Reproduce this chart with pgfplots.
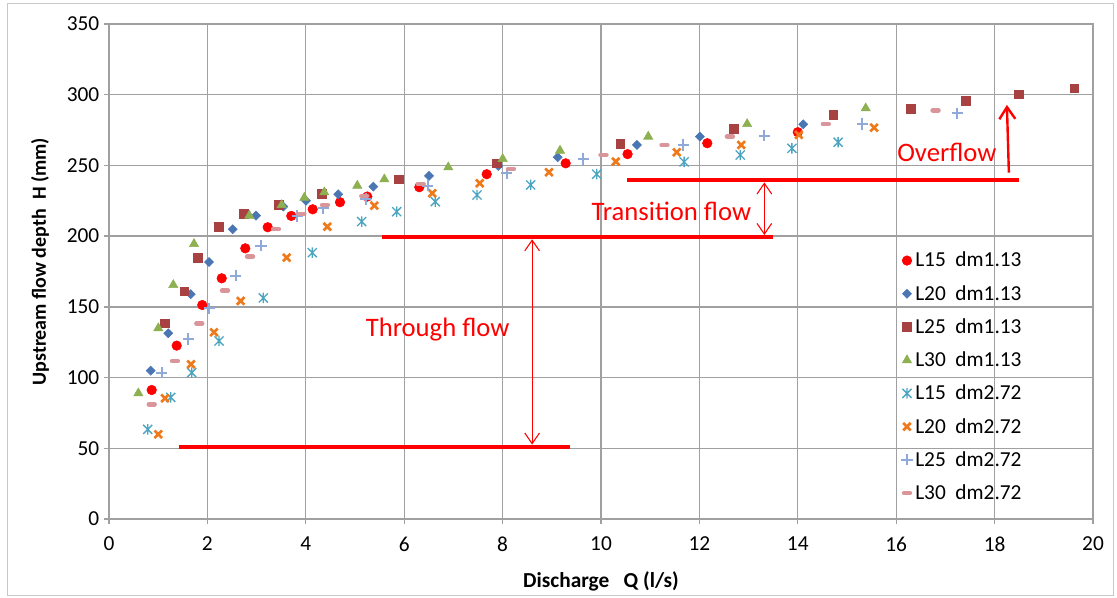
\documentclass[border=0pt]{standalone}
\usepackage{pgfplots}
\pgfplotsset{compat=1.18}
\usepackage{fontspec}
\setmainfont{Carlito}
\usetikzlibrary{arrows.meta}

\definecolor{gridgray}{HTML}{A0A0A0}
\definecolor{frame}{HTML}{C8C8C8}
\definecolor{cRed}{HTML}{FF0000}
\definecolor{cBlue}{HTML}{4A76B4}
\definecolor{cMaroon}{HTML}{A84242}
\definecolor{cGreen}{HTML}{8DB050}
\definecolor{cTeal}{HTML}{4BA5C0}
\definecolor{cOrange}{HTML}{EE7A1C}
\definecolor{cLBlue}{HTML}{8FAAD8}
\definecolor{cPink}{HTML}{D9959A}

% Excel-style star: an x with a vertical bar through it
\pgfdeclareplotmark{xstar}{%
  \pgfpathmoveto{\pgfqpoint{-\pgfplotmarksize}{-\pgfplotmarksize}}%
  \pgfpathlineto{\pgfqpoint{\pgfplotmarksize}{\pgfplotmarksize}}%
  \pgfpathmoveto{\pgfqpoint{-\pgfplotmarksize}{\pgfplotmarksize}}%
  \pgfpathlineto{\pgfqpoint{\pgfplotmarksize}{-\pgfplotmarksize}}%
  \pgfpathmoveto{\pgfqpoint{0pt}{-1.15\pgfplotmarksize}}%
  \pgfpathlineto{\pgfqpoint{0pt}{1.15\pgfplotmarksize}}%
  \pgfusepathqstroke}

\begin{document}
\begin{tikzpicture}
\useasboundingbox (-81.75pt,-58.5pt) rectangle (756pt,389.25pt);
\draw[frame, line width=0.75pt] (-75.75pt,-57pt) rectangle (753pt,386.25pt);
\begin{axis}[
    width=738pt, height=371.25pt,
    scale only axis,
    xmin=0, xmax=20,
    ymin=0, ymax=350,
    xtick={0,2,...,20},
    ytick={0,50,...,350},
    axis line style={gridgray, line width=1pt},
    grid=major,
    major grid style={gridgray, line width=1pt},
    tick style={gridgray, line width=1pt},
    tick align=outside,
    major tick length=3.75pt,
    xtick pos=bottom, ytick pos=left,
    /pgf/number format/assume math mode=true,
    tick label style={font=\fontsize{16}{19}\selectfont},
    x tick label style={yshift=-6pt},
    xlabel={Discharge\ \ \ Q (l/s)},
    ylabel={Upstream flow depth\ \ H (mm)},
    xlabel style={font=\fontsize{16}{19}\selectfont\bfseries,
        at={(axis description cs:0.50,-0.126)}, anchor=center},
    ylabel style={font=\fontsize{15}{18}\selectfont\bfseries,
        at={(axis description cs:-0.070,0.520)}, anchor=center},
    legend style={draw=none, fill=none, at={(axis description cs:0.805,0.545)},
        anchor=north west, font=\fontsize{16}{19}\selectfont,
        row sep=8.3pt, inner sep=0pt},
    legend cell align=left,
    legend image code/.code={\draw[#1] plot coordinates {(0cm,0cm)};},
]

\addplot[only marks, mark=*, mark size=3.6pt, draw=cRed, fill=cRed] coordinates {
(0.868,91.2) (1.376,122.6) (1.896,151.3) (2.291,170.2) (2.770,191.4) (3.226,206.3)
(3.705,214.3) (4.140,219.0) (4.695,224.0) (5.250,228.0) (6.307,234.6) (7.677,243.8)
(9.282,251.5) (10.54,258.0) (12.16,265.7) (14.00,273.5)
};
\addlegendentry{L15\ \ dm1.13}

\addplot[only marks, mark=square*, mark size=2.4pt, mark options={rotate=45}, draw=cBlue, fill=cBlue] coordinates {
(0.848,104.9) (1.205,131.3) (1.661,159.0) (2.033,181.7) (2.514,204.9) (2.988,214.5)
(3.543,220.9) (4.004,225.0) (4.659,229.6) (5.372,235.0) (6.504,242.6) (7.913,249.6)
(9.120,255.8) (10.73,264.5) (12.01,270.4) (14.11,279.1)
};
\addlegendentry{L20\ \ dm1.13}

\addplot[only marks, mark=square*, mark size=3.3pt, draw=cMaroon, fill=cMaroon] coordinates {
(1.138,138.4) (1.530,161.0) (1.809,184.6) (2.236,206.7) (2.744,215.7) (3.449,222.0)
(4.323,229.8) (5.894,240.2) (7.880,251.5) (10.39,265.5) (12.70,276.0) (14.72,286.0)
(16.30,290.2) (17.41,295.8) (18.49,300.3) (19.62,304.6)
};
\addlegendentry{L25\ \ dm1.13}

\addplot[only marks, mark=triangle*, mark size=4pt, draw=cGreen, fill=cGreen] coordinates {
(0.596,88.9) (1.002,134.9) (1.307,165.5) (1.728,194.5) (2.852,214.5) (3.510,222.0)
(3.970,227.2) (4.376,231.0) (5.047,235.7) (5.596,240.2) (6.896,248.7) (8.002,254.6)
(9.167,260.5) (10.96,270.4) (12.97,279.3) (15.38,290.4)
};
\addlegendentry{L30\ \ dm1.13}

\addplot[only marks, mark=xstar, mark size=3.4pt, draw=cTeal, line width=1pt] coordinates {
(0.787,63.4) (1.254,86.0) (1.681,103.5) (2.236,125.9) (3.136,156.3) (4.132,188.3)
(5.136,210.3) (5.848,217.3) (6.632,224.4) (7.480,229.1) (8.571,236.2) (9.913,243.8)
(11.69,252.5) (12.83,257.4) (13.88,262.1) (14.82,266.4)
};
\addlegendentry{L15\ \ dm2.72}

\addplot[only marks, mark=x, mark size=4pt, draw=cOrange, line width=2pt] coordinates {
(1.002,59.9) (1.138,85.4) (1.667,109.4) (2.134,132.0) (2.677,154.2) (3.612,184.8)
(4.437,206.7) (5.392,221.6) (6.571,230.3) (7.535,237.4) (8.943,245.2) (10.30,252.7)
(11.54,259.3) (12.85,264.5) (14.02,271.6) (15.55,276.7)
};
\addlegendentry{L20\ \ dm2.72}

\addplot[only marks, mark=+, mark size=4.2pt, draw=cLBlue, line width=1.6pt] coordinates {
(1.071,103.5) (1.612,127.3) (2.039,149.0) (2.575,171.9) (3.089,193.3) (3.827,214.3)
(4.356,219.7) (5.218,226.3) (6.478,235.7) (8.083,244.4) (9.640,254.6) (11.67,264.5)
(13.32,271.1) (15.31,279.3) (17.24,286.9)
};
\addlegendentry{L25\ \ dm2.72}

\addplot[only marks, mark=-, mark size=2.1pt, draw=cPink, line width=3.6pt, line cap=round] coordinates {
(0.868,81.1) (1.341,111.7) (1.835,138.4) (2.358,161.5) (2.866,185.5) (3.394,205.1)
(3.909,215.7) (4.390,222.0) (5.189,228.4) (6.335,236.9) (8.171,247.5) (10.05,257.4)
(11.29,264.5) (12.62,270.4) (14.57,279.3) (16.80,289.0)
};
\addlegendentry{L30\ \ dm2.72}

% flow regime annotations
\draw[cRed, line width=3pt] (axis cs:1.42,51.1) -- (axis cs:9.38,51.1);
\draw[cRed, line width=3pt] (axis cs:5.55,199.4) -- (axis cs:13.50,199.4);
\draw[cRed, line width=3pt] (axis cs:10.53,239.5) -- (axis cs:18.50,239.5);
\draw[cRed, line width=0.8pt, {Straight Barb[length=8pt,width=11pt]}-{Straight Barb[length=8pt,width=11pt]}]
    (axis cs:8.60,197.8) -- (axis cs:8.60,52.6);
\draw[cRed, line width=0.8pt, {Straight Barb[length=8pt,width=11pt]}-{Straight Barb[length=8pt,width=11pt]}]
    (axis cs:13.32,238.0) -- (axis cs:13.32,200.8);
\draw[cRed, line width=1.8pt, -{Straight Barb[length=9pt,width=12pt]}]
    (axis cs:18.29,244.9) -- (axis cs:18.25,292.8);
\node[cRed, font=\fontsize{20}{24}\selectfont] at (axis cs:6.68,134.2) {Through flow};
\node[cRed, font=\fontsize{20}{24}\selectfont] at (axis cs:11.43,217.3) {Transition flow};
\node[cRed, font=\fontsize{20}{24}\selectfont] at (axis cs:17.03,259.5) {Overflow};
\end{axis}
\end{tikzpicture}
\end{document}
